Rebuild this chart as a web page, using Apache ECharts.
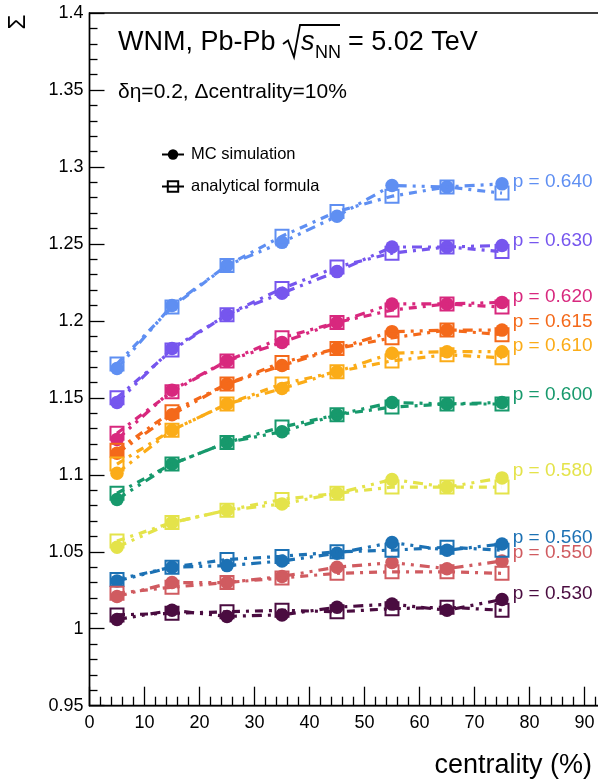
<!DOCTYPE html>
<html>
<head>
<meta charset="utf-8">
<script src="https://cdn.jsdelivr.net/npm/echarts@6/dist/echarts.min.js"></script>
<style>
  html, body { margin: 0; padding: 0; background: #fff; }
  #chart { width: 598px; height: 781px; }
</style>
</head>
<body>
<div id="chart"></div>
<script>
// Centrality bins (bin centres, %)
const centrality = [5, 15, 25, 35, 45, 55, 65, 75];

// Parameter p for each curve
const pValues = ['0.640', '0.630', '0.620', '0.615', '0.610', '0.600', '0.580', '0.560', '0.550', '0.530'];

// MC simulation (filled circles)
const mc640 = [1.169, 1.210, 1.236, 1.251, 1.268, 1.288, 1.287, 1.289];
const mc630 = [1.147, 1.182, 1.204, 1.218, 1.232, 1.248, 1.248, 1.249];
const mc620 = [1.123, 1.155, 1.174, 1.186, 1.199, 1.211, 1.211, 1.212];
const mc615 = [1.114, 1.139, 1.159, 1.171, 1.182, 1.193, 1.194, 1.194];
const mc610 = [1.101, 1.129, 1.146, 1.156, 1.167, 1.179, 1.180, 1.180];
const mc600 = [1.084, 1.107, 1.121, 1.128, 1.139, 1.147, 1.146, 1.147];
const mc580 = [1.053, 1.069, 1.077, 1.081, 1.088, 1.097, 1.092, 1.098];
const mc560 = [1.031, 1.040, 1.041, 1.044, 1.049, 1.056, 1.051, 1.055];
const mc550 = [1.021, 1.030, 1.030, 1.034, 1.040, 1.043, 1.039, 1.044];
const mc530 = [1.006, 1.012, 1.008, 1.009, 1.014, 1.016, 1.012, 1.019];

// Analytical formula (open squares)
const an640 = [1.172, 1.209, 1.236, 1.255, 1.271, 1.281, 1.287, 1.283];
const an630 = [1.150, 1.181, 1.204, 1.221, 1.235, 1.244, 1.248, 1.245];
const an620 = [1.127, 1.154, 1.174, 1.189, 1.199, 1.207, 1.211, 1.209];
const an615 = [1.116, 1.141, 1.159, 1.173, 1.182, 1.189, 1.194, 1.191];
const an610 = [1.107, 1.129, 1.146, 1.159, 1.167, 1.174, 1.178, 1.176];
const an600 = [1.088, 1.107, 1.121, 1.131, 1.139, 1.144, 1.146, 1.146];
const an580 = [1.057, 1.069, 1.077, 1.084, 1.088, 1.092, 1.092, 1.092];
const an560 = [1.032, 1.040, 1.045, 1.047, 1.050, 1.051, 1.053, 1.051];
const an550 = [1.023, 1.027, 1.030, 1.033, 1.036, 1.037, 1.037, 1.036];
const an530 = [1.009, 1.010, 1.011, 1.012, 1.011, 1.013, 1.014, 1.012];

// Axis ticks
const xTicks = [0, 10, 20, 30, 40, 50, 60, 70, 80, 90];
const yMin = 0.95, yMax = 1.4, yStep = 0.05;

const mcSets = [mc640, mc630, mc620, mc615, mc610, mc600, mc580, mc560, mc550, mc530];
const anSets = [an640, an630, an620, an615, an610, an600, an580, an560, an550, an530];

// Styling
const colors = ['#5f8ff2', '#7656ee', '#d8287e', '#f4691a', '#fbac18', '#17996c', '#e4e34a', '#1c71b4', '#d05b60', '#4a0c40'];
const labelShift = [-2, -5, -6, -8, -6, -8, -7, -6, -8, -6];
const FONT = "'Liberation Sans', Arial, Helvetica, sans-serif";
const squarePath = 'path://M0,0L10,0L10,10L0,10Z';

const chart = echarts.init(document.getElementById('chart'), null, { renderer: 'canvas' });

function pairs(ys) {
  return centrality.map((x, i) => [x, ys[i]]);
}

const series = [];
anSets.forEach((ys, k) => {
  series.push({
    type: 'line',
    name: 'analytical p=' + pValues[k],
    data: pairs(ys),
    symbol: squarePath,
    symbolSize: 13,
    z: 4,
    itemStyle: { color: 'rgba(255,255,255,0)', borderColor: colors[k], borderWidth: 2 },
    lineStyle: { color: colors[k], width: 3.2, type: [8, 6, 3, 6] },
    silent: true,
    animation: false
  });
});
mcSets.forEach((ys, k) => {
  const data = pairs(ys);
  const last = data.length - 1;
  data[last] = {
    value: data[last],
    label: {
      show: true,
      position: 'right',
      distance: 4,
      offset: [0, labelShift[k]],
      formatter: 'p = ' + pValues[k],
      color: colors[k],
      fontFamily: FONT,
      fontSize: 19
    }
  };
  series.push({
    type: 'line',
    name: 'MC p=' + pValues[k],
    data: data,
    symbol: 'circle',
    symbolSize: 13.5,
    z: 3,
    itemStyle: { color: colors[k] },
    lineStyle: { color: colors[k], width: 3.2, type: [10, 6, 3, 6, 3, 6] },
    silent: true,
    animation: false
  });
});

// Legend entries (black markers)
series.push({
  type: 'line', name: 'MC simulation', data: [],
  symbol: 'circle', symbolSize: 13,
  itemStyle: { color: '#000' }, lineStyle: { color: '#000', width: 2 }
});
series.push({
  type: 'line', name: 'analytical formula', data: [],
  symbol: squarePath, symbolSize: 12,
  itemStyle: { color: 'rgba(255,255,255,0)', borderColor: '#000', borderWidth: 2 },
  lineStyle: { color: '#000', width: 2 }
});

const option = {
  backgroundColor: '#fff',
  animation: false,
  grid: {
    left: 89.5, top: 13, width: 522.5, height: 692.7,
    outerBoundsMode: 'none',
    containLabel: false,
    show: true, borderColor: '#000', borderWidth: 1.4, backgroundColor: 'transparent'
  },
  legend: {
    data: ['MC simulation', 'analytical formula'],
    orient: 'vertical',
    left: 156, top: 141,
    itemWidth: 22, itemHeight: 13, itemGap: 15,
    textStyle: { fontFamily: FONT, fontSize: 16.5, color: '#000', padding: [0, 0, 0, 2] },
    selectedMode: false
  },
  xAxis: {
    type: 'value',
    min: 0, max: 95, interval: 10,
    axisLine: { show: true, onZero: false, lineStyle: { color: '#000', width: 1.4 } },
    axisTick: { show: true, inside: true, length: 19, lineStyle: { color: '#000', width: 1.3 } },
    minorTick: { show: true, splitNumber: 5, length: 9, lineStyle: { color: '#000', width: 1.3 } },
    splitLine: { show: false },
    axisLabel: {
      margin: 8, fontFamily: FONT, fontSize: 18, color: '#000',
      formatter: v => (xTicks.indexOf(v) >= 0 ? String(v) : '')
    }
  },
  yAxis: {
    type: 'value',
    min: yMin, max: yMax, interval: yStep,
    axisLine: { show: true, onZero: false, lineStyle: { color: '#000', width: 1.4 } },
    axisTick: { show: true, inside: true, length: 15, lineStyle: { color: '#000', width: 1.3 } },
    minorTick: { show: true, splitNumber: 5, length: 8, lineStyle: { color: '#000', width: 1.3 } },
    splitLine: { show: false },
    axisLabel: { margin: 6, fontFamily: FONT, fontSize: 18, color: '#000' }
  },
  graphic: [
    { type: 'text', left: 118, top: 29, style: { text: 'WNM, Pb-Pb', font: '27px ' + FONT, fill: '#000' } },
    { type: 'polyline', shape: { points: [[283, 44], [288, 40.5], [294, 57], [300, 25], [340, 25]] },
      style: { stroke: '#000', lineWidth: 1.8, fill: null } },
    { type: 'text', left: 301, top: 29, style: { text: 's', font: 'italic 27px ' + FONT, fill: '#000' } },
    { type: 'text', left: 315, top: 44, style: { text: 'NN', font: '18px ' + FONT, fill: '#000' } },
    { type: 'text', left: 348, top: 29, style: { text: '= 5.02 TeV', font: '27px ' + FONT, fill: '#000' } },
    { type: 'text', left: 118, top: 82, style: { text: 'δη=0.2, Δcentrality=10%', font: '21px ' + FONT, fill: '#000' } },
    { type: 'text', x: 592, y: 766, style: { text: 'centrality (%)', font: '27px ' + FONT, fill: '#000', align: 'right', verticalAlign: 'middle' } },
    { type: 'text', x: 18, y: 22, rotation: Math.PI / 2, style: { text: 'Σ', font: '24px ' + FONT, fill: '#000', align: 'center', verticalAlign: 'middle' } }
  ],
  series: series
};

chart.setOption(option);
</script>
</body>
</html>
